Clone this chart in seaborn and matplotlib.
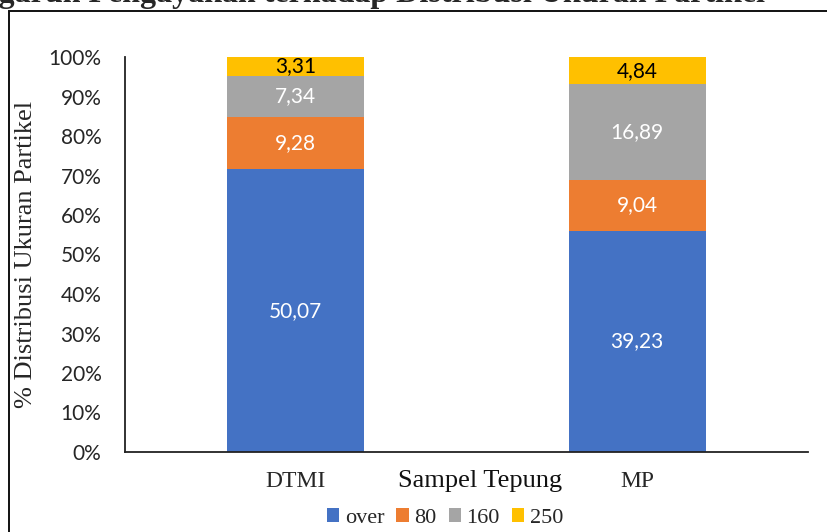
import numpy as np
import pandas as pd
import seaborn as sns
import matplotlib.pyplot as plt
from matplotlib.colors import to_hex
from matplotlib.patches import Patch, Rectangle
from matplotlib.ticker import PercentFormatter

# Particle-size fractions (mesh) per flour sample
samples = ["DTMI", "MP"]
fractions = ["over", "80", "160", "250"]
over_vals = [50.07, 39.23]
m80_vals = [9.28, 9.04]
m160_vals = [7.34, 16.89]
m250_vals = [3.31, 4.84]

colors = {"over": "#4472C4", "80": "#ED7D31", "160": "#A5A5A5", "250": "#FFC000"}
label_colors = {"over": "white", "80": "white", "160": "white", "250": "black"}

rows = []
for frac, vals in zip(fractions, [over_vals, m80_vals, m160_vals, m250_vals]):
    for s, v in zip(samples, vals):
        rows.append({"Sampel": s, "Fraksi": frac, "Nilai": v})
df = pd.DataFrame(rows)

sns.set_theme(style="white")
serif = "Liberation Serif"
sans = "Lato"

fig = plt.figure(figsize=(8.27, 5.32), dpi=100)
ax = fig.add_axes([125 / 827, 80 / 532, 683 / 827, 395 / 532])

# seaborn puts the first hue level on top of a stack, so list from top to bottom
stack_order = fractions[::-1]
sns.histplot(
    data=df, x="Sampel", hue="Fraksi", weights="Nilai",
    hue_order=stack_order, palette=colors, multiple="fill",
    discrete=True, shrink=0.4, alpha=1, linewidth=0, legend=False, ax=ax,
)

# value labels in the middle of every segment (containers matched by colour)
color_to_frac = {to_hex(c): f for f, c in colors.items()}
for cont in ax.containers:
    frac = color_to_frac[to_hex(cont.patches[0].get_facecolor())]
    vals = df[df["Fraksi"] == frac].set_index("Sampel")["Nilai"]
    labels = []
    for p in cont.patches:
        idx = int(round(p.get_x() + p.get_width() / 2))
        labels.append(f"{vals[samples[idx]]:.2f}".replace(".", ","))
    ax.bar_label(cont, labels=labels, label_type="center",
                 color=label_colors[frac], fontsize=15, family=sans)

ax.set_xlim(-0.5, 1.5)
ax.set_ylim(0, 1)
ax.set_yticks(np.arange(0, 1.01, 0.1))
ax.yaxis.set_major_formatter(PercentFormatter(1.0, decimals=0))
ax.set_xticks([0, 1])
ax.set_xticklabels(samples)
ax.tick_params(axis="y", length=0, pad=17, labelsize=15)
ax.tick_params(axis="x", length=0, pad=14, labelsize=17)
for t in ax.get_yticklabels():
    t.set_family(sans)
for t in ax.get_xticklabels():
    t.set_family(serif)

ax.set_ylabel("% Distribusi Ukuran Partikel", fontsize=19, labelpad=8)
ax.yaxis.label.set_fontfamily(serif)
# axis title sits on the same line as the category labels
ax.set_xlabel("")
ax.text(0.52, -0.045, "Sampel Tepung", transform=ax.transAxes, ha="center", va="top",
        family=serif, fontsize=19, color="#111111")

for side in ["top", "right"]:
    ax.spines[side].set_visible(False)
for side in ["left", "bottom"]:
    ax.spines[side].set_color("#222222")
    ax.spines[side].set_linewidth(1.3)

handles = [Patch(facecolor=colors[f], edgecolor="none") for f in fractions]
fig.legend(handles, fractions, loc="center", bbox_to_anchor=(445 / 827, 1 - 518 / 532),
           ncol=4, frameon=False, prop={"family": serif, "size": 16},
           handlelength=0.55, handleheight=0.55, handletextpad=0.25,
           columnspacing=0.55, borderaxespad=0, borderpad=0)

# outer chart frame
fig.add_artist(Rectangle((8.5 / 827, -0.1), 1.2, 1 - 10.5 / 532 + 0.1,
                         transform=fig.transFigure, fill=False,
                         edgecolor="#111111", linewidth=1.4, clip_on=False))

fig.text(765 / 827, 1 - 2 / 532, "Pengaruh Pengayakan terhadap Distribusi Ukuran Partikel",
         ha="right", va="baseline", family=serif, fontweight="bold", fontsize=23)

fig.savefig("out.png", dpi=100)
